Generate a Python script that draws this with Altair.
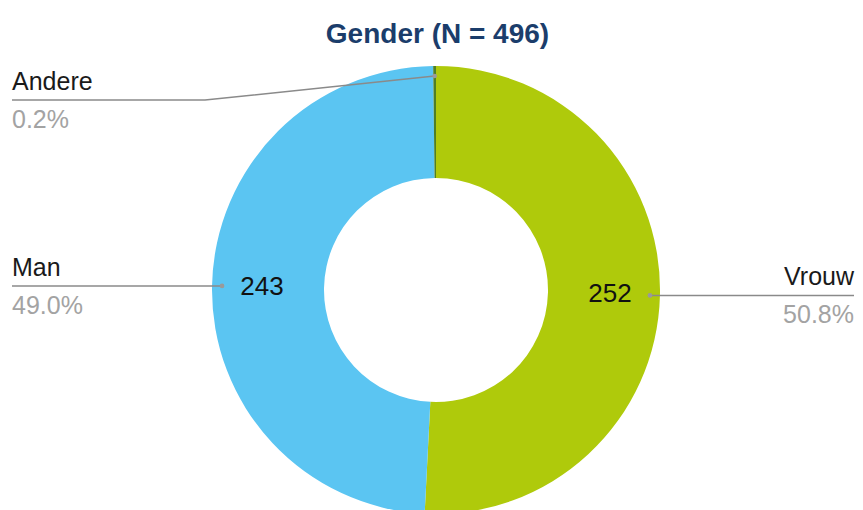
import math
import altair as alt
import pandas as pd

# ---- data ----
categories = ["Vrouw", "Man", "Andere"]
counts = [252, 243, 1]
percent_labels = ["50.8%", "49.0%", "0.2%"]
colors = ["#afca0b", "#5bc5f2", "#4f7f26"]
title_text = "Gender (N = 496)"

# ---- layout (plot-area pixels) ----
W, H = 847, 452
CX, CY = 428, 232
R_OUT, R_IN = 224, 112
R_DOT, R_VAL = 214, 174
LEFT_X, RIGHT_X = 4, 846

total = sum(counts)
rows, lines, labels = [], [], []
start = 0.0
for i, (cat, n, pct) in enumerate(zip(categories, counts, percent_labels)):
    a0 = start
    a1 = start + n / total * 2 * math.pi
    mid = (a0 + a1) / 2
    start = a1
    rows.append({"cat": cat, "value": n, "ord": i})
    ax = CX + R_DOT * math.sin(mid)
    ay = CY - R_DOT * math.cos(mid)
    right = math.sin(mid) > 0.5
    if abs(math.sin(mid)) > 0.5:
        ly = ay
        ex = ax
    else:
        ly = 42
        ex = 197
    endx = RIGHT_X if right else LEFT_X
    for k, (px, py) in enumerate([(ax, ay), (ex, ly), (endx, ly)]):
        lines.append({"cat": cat, "seq": k, "x": px, "y": py, "dot": k == 0})
    align = "right" if right else "left"
    labels.append({"cat": cat, "x": endx, "y": ly - 10, "text": cat, "kind": "name", "align": align})
    labels.append({"cat": cat, "x": endx, "y": ly + 28, "text": pct, "kind": "pct", "align": align})
    if n > 10:
        labels.append({"cat": cat, "x": CX + R_VAL * math.sin(mid),
                       "y": CY - R_VAL * math.cos(mid), "text": str(n), "kind": "val", "align": "center"})

arc_df = pd.DataFrame(rows)
line_df = pd.DataFrame(lines)
lab_df = pd.DataFrame(labels)

xs = alt.Scale(domain=[0, W], range=[0, W])
ys = alt.Scale(domain=[0, H], reverse=True)

arc = alt.Chart(arc_df).mark_arc(outerRadius=R_OUT, innerRadius=R_IN).encode(
    theta=alt.Theta("value:Q", stack=True),
    color=alt.Color("cat:N", scale=alt.Scale(domain=categories, range=colors), legend=None),
    order=alt.Order("ord:Q"),
    x=alt.value(CX),
    y=alt.value(CY),
)

leader = alt.Chart(line_df).mark_line(color="#8a8a8a", strokeWidth=1.5).encode(
    x=alt.X("x:Q", scale=xs, axis=None),
    y=alt.Y("y:Q", scale=ys, axis=None),
    detail="cat:N",
    order="seq:Q",
)

dots = alt.Chart(line_df).transform_filter("datum.dot").mark_circle(color="#9a9a9a", size=22, opacity=1).encode(
    x=alt.X("x:Q", scale=xs, axis=None),
    y=alt.Y("y:Q", scale=ys, axis=None),
)

def text_layer(kind, align, color, size, baseline):
    return alt.Chart(lab_df).transform_filter(
        f"datum.kind == '{kind}' && datum.align == '{align}'"
    ).mark_text(align=align, baseline=baseline, font="Liberation Sans", fontSize=size, color=color).encode(
        x=alt.X("x:Q", scale=xs, axis=None),
        y=alt.Y("y:Q", scale=ys, axis=None),
        text="text:N",
    )

texts = [
    text_layer("name", "left", "#1a1a1a", 25, "alphabetic"),
    text_layer("name", "right", "#1a1a1a", 25, "alphabetic"),
    text_layer("pct", "left", "#a3a3a3", 25, "alphabetic"),
    text_layer("pct", "right", "#a3a3a3", 25, "alphabetic"),
    text_layer("val", "center", "#111111", 26, "middle"),
]

chart = alt.layer(arc, leader, dots, *texts).properties(
    width=W,
    height=H,
    padding={"left": 0, "top": 50, "right": 0, "bottom": 0},
    autosize=alt.AutoSizeParams(type="none"),
    title=alt.TitleParams(
        title_text, fontSize=28, font="Liberation Sans", fontWeight="bold",
        color="#1b3d6b", anchor="middle", baseline="alphabetic", offset=0, dx=6, dy=13,
    ),
).configure_view(stroke=None)

chart.save("out.html", embed_options={"renderer": "svg", "actions": False})
